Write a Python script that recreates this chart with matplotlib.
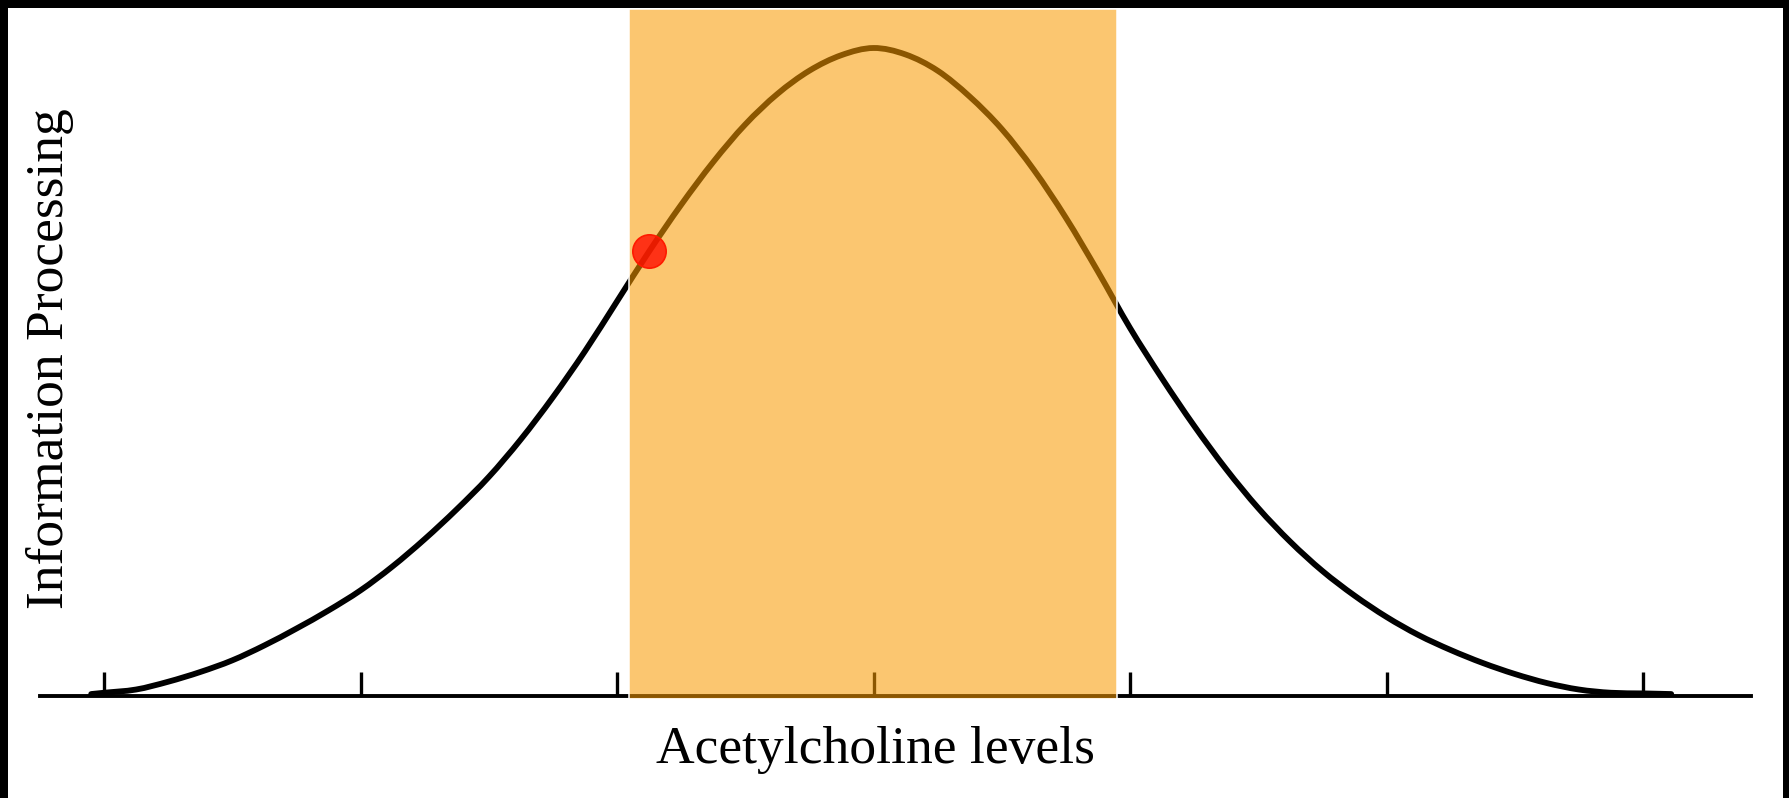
"""
Inverted-U: information processing vs. acetylcholine levels.
Curve values read off the reference picture (peak = 1.0, tick spacing = 1).
"""
import matplotlib
matplotlib.use("Agg")
import numpy as np
import matplotlib.pyplot as plt
from matplotlib.patches import Rectangle, PathPatch
from matplotlib.path import Path

OUTPUT = "out.png"

# ── Data ──────────────────────────────────────────────────────────────────────
ach_level = [
    -0.05, 0.0, 0.125, 0.25, 0.375, 0.5, 0.625, 0.75, 0.875, 1.0,
    1.125, 1.25, 1.375, 1.5, 1.625, 1.75, 1.875, 2.0, 2.125, 2.25,
    2.375, 2.5, 2.625, 2.75, 2.875, 3.0, 3.125, 3.25, 3.375, 3.5,
    3.625, 3.75, 3.875, 4.0, 4.125, 4.25, 4.375, 4.5, 4.625, 4.75,
    4.875, 5.0, 5.125, 5.25, 5.375, 5.5, 5.625, 5.75, 5.875, 6.0, 6.11,
]
processing = [
    0.003, 0.005, 0.010, 0.022, 0.037, 0.055, 0.078, 0.104, 0.132, 0.163,
    0.200, 0.242, 0.288, 0.338, 0.396, 0.461, 0.532, 0.609, 0.686, 0.758,
    0.824, 0.882, 0.929, 0.965, 0.989, 1.000, 0.990, 0.965, 0.925, 0.875,
    0.812, 0.738, 0.655, 0.568, 0.490, 0.417, 0.350, 0.290, 0.238, 0.193,
    0.155, 0.122, 0.094, 0.071, 0.051, 0.034, 0.020, 0.010, 0.005, 0.004, 0.003,
]
tick_pos = [0, 1, 2, 3, 4, 5, 6]

optimal_lo, optimal_hi = 2.047, 3.949   # shaded "optimal" band
marker_x, marker_y = 2.125, 0.686       # red dot on the curve


def smooth_path(xs, ys):
    """Cubic Bezier path through the points (Catmull-Rom tangents)."""
    p = np.column_stack([xs, ys])
    verts = [p[0]]
    codes = [Path.MOVETO]
    for i in range(len(p) - 1):
        p0 = p[max(i - 1, 0)]
        p1, p2 = p[i], p[i + 1]
        p3 = p[min(i + 2, len(p) - 1)]
        verts += [p1 + (p2 - p0) / 6, p2 - (p3 - p1) / 6, p2]
        codes += [Path.CURVE4] * 3
    return Path(verts, codes)


# ── Plot ──────────────────────────────────────────────────────────────────────
plt.rcParams["font.family"] = ["Liberation Serif", "DejaVu Serif"]

W, H = 1789, 798
fig = plt.figure(figsize=(W / 100, H / 100), dpi=100)
ax = fig.add_axes([0, 0, 1, 1])

# pixel mapping: x = 104 + 256.5*u, y(h=0)=696, y(h=1)=48
ax.set_xlim(-104 / 256.5, (W - 104) / 256.5)
ax.set_ylim(-(H - 696) / 648, 696 / 648)

ax.add_patch(PathPatch(smooth_path(ach_level, processing), fill=False,
                       edgecolor="black", linewidth=4.2, capstyle="round",
                       joinstyle="round", zorder=2))

# baseline with upward ticks
for side in ("top", "left", "right"):
    ax.spines[side].set_visible(False)
ax.spines["bottom"].set_position(("data", 0))
ax.spines["bottom"].set_bounds(-0.25, 6.42)
ax.spines["bottom"].set_linewidth(2.8)
ax.spines["bottom"].set_zorder(2)
ax.set_xticks(tick_pos)
ax.tick_params(axis="x", direction="in", length=17, width=2.4,
               labelbottom=False, color="black")
ax.set_yticks([])
ax.patch.set_visible(False)

# optimal band (semi-transparent, drawn over curve and axis)
ax.add_patch(Rectangle((optimal_lo, -0.005), optimal_hi - optimal_lo, 1.065,
                       facecolor="#F99A00", alpha=0.56, edgecolor="none",
                       zorder=3))
ax.add_patch(Rectangle((optimal_lo, -0.005), optimal_hi - optimal_lo, 1.065,
                       facecolor="none", edgecolor="white", linewidth=1.1,
                       zorder=3.1))

ax.plot([marker_x], [marker_y], "o", markersize=24,
        markerfacecolor=(1.0, 0.05, 0.0, 0.8), markeredgecolor="#ff1a00",
        markeredgewidth=1.2, zorder=4)

fig.text(50 / W, 0.551, "Information Processing", rotation=90,
         ha="center", va="center", fontsize=38.5)
fig.text(875 / W, 0.060, "Acetylcholine levels",
         ha="center", va="center", fontsize=38.5)

# black frame (top, left, right)
for x0, y0, w, h in [(0, 1 - 8 / H, 1, 8 / H), (0, 0, 8 / W, 1),
                     (1 - 6 / W, 0, 6 / W, 1)]:
    fig.patches.append(Rectangle((x0, y0), w, h, transform=fig.transFigure,
                                 facecolor="black", edgecolor="none",
                                 zorder=10))

fig.savefig(OUTPUT, dpi=100, facecolor="white")
print(f"saved {OUTPUT}")
